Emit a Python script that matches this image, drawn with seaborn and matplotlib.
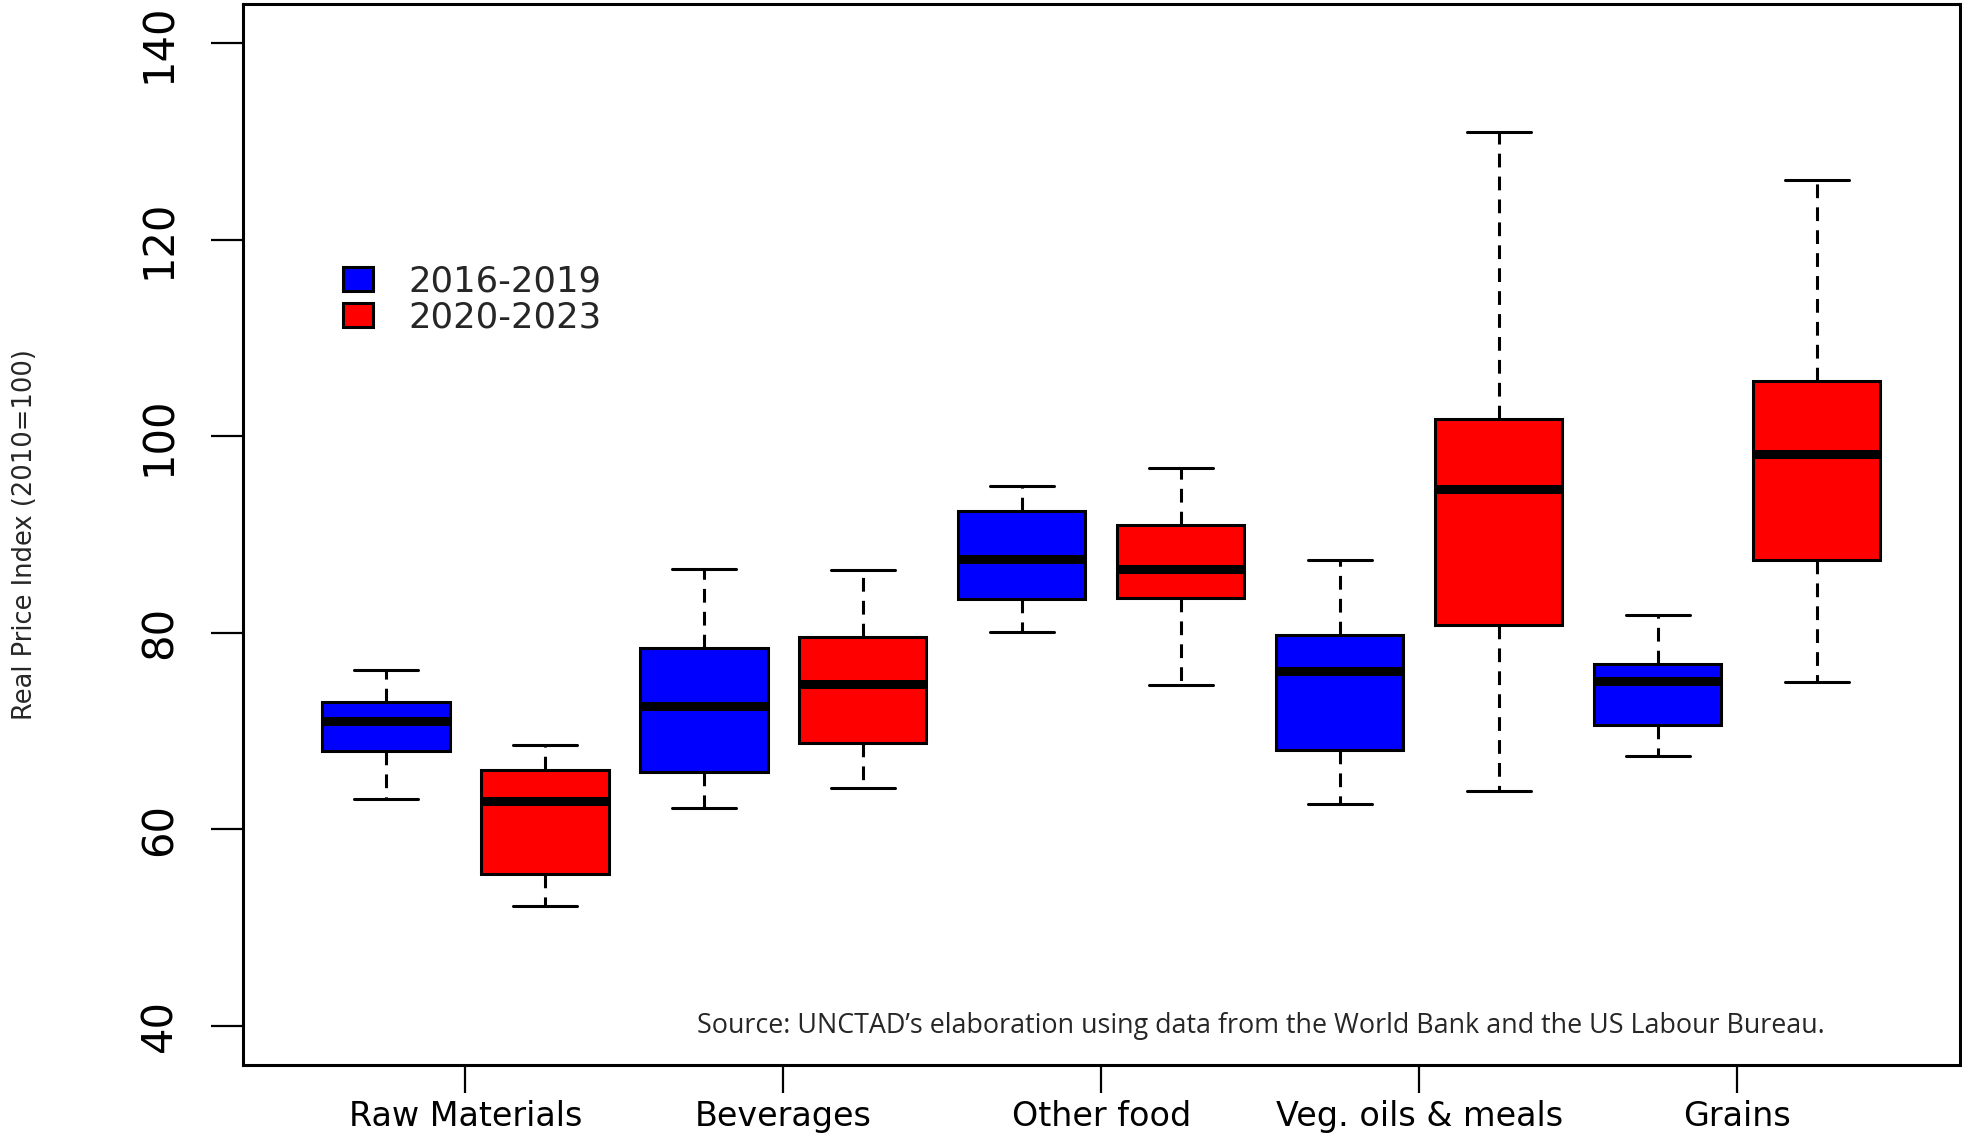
import pandas as pd
import matplotlib
matplotlib.use("Agg")
import matplotlib.pyplot as plt
from matplotlib.patches import Patch
import seaborn as sns

## Data: five-number summaries
categories = ["Raw Materials", "Beverages", "Other food", "Veg. oils & meals", "Grains"]
periods = ["2016-2019", "2020-2023"]

min_1619 = [63.1, 62.2, 80.1, 62.6, 67.4]
q1_1619 = [68.0, 65.8, 83.4, 68.1, 70.6]
med_1619 = [71.0, 72.5, 87.5, 76.1, 75.1]
q3_1619 = [72.9, 78.4, 92.4, 79.8, 76.8]
max_1619 = [76.2, 86.5, 94.9, 87.4, 81.8]

min_2023 = [52.2, 64.2, 74.7, 63.9, 75.0]
q1_2023 = [55.4, 68.8, 83.5, 80.8, 87.4]
med_2023 = [62.9, 74.8, 86.5, 94.6, 98.2]
q3_2023 = [66.0, 79.6, 91.0, 101.8, 105.6]
max_2023 = [68.6, 86.4, 96.8, 131.0, 126.1]

colors = {"2016-2019": "#0000FF", "2020-2023": "#FF0000"}

# long table: the five points give back exactly these quartiles / whisker ends
rows = []
summaries = {
    "2016-2019": [min_1619, q1_1619, med_1619, q3_1619, max_1619],
    "2020-2023": [min_2023, q1_2023, med_2023, q3_2023, max_2023],
}
for period, stats in summaries.items():
    for i, cat in enumerate(categories):
        for s in stats:
            rows.append({"category": cat, "period": period, "value": s[i]})
df = pd.DataFrame(rows)

## Style
sns.set_theme(style="ticks")
plt.rcParams["font.family"] = ["DejaVu Sans"]
plt.rcParams["axes.edgecolor"] = "black"
plt.rcParams["axes.linewidth"] = 2.2
plt.rcParams["xtick.color"] = "black"
plt.rcParams["ytick.color"] = "black"

fig = plt.figure(figsize=(19.62, 11.39), dpi=100)
ax = fig.add_axes([0.1238, 0.065, 0.8751, 0.9315])

lw = 2.2
sns.boxplot(
    data=df, x="category", y="value", hue="period",
    order=categories, hue_order=periods, palette=colors, saturation=1,
    width=1.0, gap=0.2, whis=(0, 100), showfliers=False,
    linecolor="black", linewidth=lw, legend=False,
    medianprops=dict(color="black", linewidth=6.5, solid_capstyle="butt"),
    whiskerprops=dict(color="black", linewidth=lw, linestyle=(0, (4.5, 3))),
    capprops=dict(color="black", linewidth=lw),
    ax=ax,
)

ax.set_xlim(-0.7, 4.7)
ax.set_ylim(36, 144)
ax.set_yticks([40, 60, 80, 100, 120, 140])
ax.set_xlabel("")
ax.set_ylabel("")
for sp in ax.spines.values():
    sp.set_visible(True)
    sp.set_linewidth(lw)
    sp.set_color("black")

ax.tick_params(axis="y", labelsize=30, length=23, width=1.6, pad=22, labelrotation=90)
for t in ax.get_yticklabels():
    t.set_va("center")
ax.tick_params(axis="x", labelsize=24, length=20, width=1.6, pad=5)

handles = [Patch(facecolor=colors[p], edgecolor="black", linewidth=lw) for p in periods]
ax.legend(handles, periods, loc="center left", bbox_to_anchor=(0.0582, 0.7215),
          frameon=False, fontsize=25.5, handlelength=0.84, handleheight=0.66,
          handletextpad=1.0, labelspacing=0.05, borderpad=0, borderaxespad=0)

fig.text(25 / 1962, 1 - 534.5 / 1139, "Real Price Index (2010=100)", rotation=90,
         ha="center", va="center", fontsize=18.5)

ax.text(0.2644, 0.0368,
        "Source: UNCTAD\u2019s elaboration using data from the World Bank and the US Labour Bureau.",
        transform=ax.transAxes, fontsize=19.4, family="Open Sans", va="center", ha="left")

fig.savefig("out.png", dpi=100)
